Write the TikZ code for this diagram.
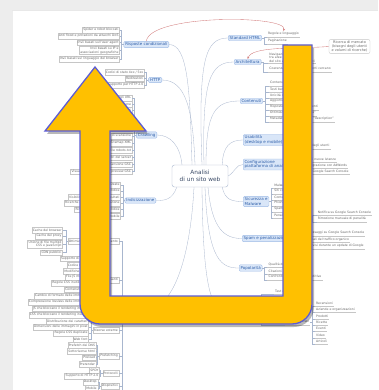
\documentclass[tikz,border=0pt]{standalone}
\usepackage{fontspec}
\setmainfont{DejaVu Sans}
\usetikzlibrary{arrows.meta}
\definecolor{pagebg}{HTML}{EDEDED}
\definecolor{conc}{HTML}{A8B6CE}
\definecolor{redl}{HTML}{D27A7A}
\definecolor{brfill}{HTML}{D9E6F8}
\definecolor{brdraw}{HTML}{9DBAE6}
\definecolor{brtext}{HTML}{2E5EA8}
\definecolor{leaftext}{HTML}{666666}
\definecolor{leafline}{HTML}{C6C6C6}
\definecolor{arrowfill}{HTML}{FFC000}
\definecolor{arrowdraw}{HTML}{5C5CD4}
\definecolor{hubtext}{HTML}{3A4A66}
\tikzset{
  leaf/.style={draw=leafline, line width=0.25pt, text=leaftext,
    font=\fontsize{3.1}{3.6}\selectfont, inner xsep=1pt, inner ysep=0.6pt,
    minimum height=5.6pt, align=left},
  uleaf/.style={text=leaftext, font=\fontsize{3.1}{3.6}\selectfont,
    inner xsep=1pt, inner ysep=0.6pt, minimum height=5.6pt, align=left},
  uline/.style={draw=leafline, line width=0.3pt},
  branch/.style={draw=brdraw, fill=brfill, text=brtext, rounded corners=1.2pt,
    line width=0.35pt, font=\fontsize{4}{4.7}\selectfont, inner xsep=1.5pt,
    inner ysep=1.2pt, align=left},
  hub/.style={draw=conc, fill=white, rounded corners=2.5pt, line width=0.4pt,
    text=hubtext, font=\fontsize{5.8}{7}\selectfont, align=center,
    minimum width=56pt, minimum height=22pt},
  notebox/.style={draw=leafline, fill=white, rounded corners=2pt, line width=0.35pt,
    text=leaftext, font=\fontsize{3.5}{4.1}\selectfont, align=center,
    inner xsep=2.5pt, inner ysep=1.5pt},
  conn/.style={draw=conc, line width=0.3pt},
  xlink/.style={draw=redl, line width=0.35pt, -{Stealth[length=2.5pt,width=2pt]}},
  bigarrow/.style={fill=arrowfill, draw=arrowdraw, line width=1.3pt, line join=miter},
  arrowshadow/.style={fill=black, opacity=0.28}
}
% boxed leaves to the left of a parent: parent, gap, list y/text
\newcommand\LLeaves[3]{%
  \path (#1.west) ++(-#2,0) coordinate (#1-b);
  \foreach \ly/\lt [count=\li] in {#3}{%
    \node[leaf, anchor=east, align=right] (#1-\li) at (#1-b |- 0,\ly) {\lt};
    \draw[conn] (#1.west) -- ++(-2,0) |- (#1-\li.east);
  }}
% underlined leaves to the right of a parent
\newcommand\RLeaves[3]{%
  \path (#1.east) ++(#2,0) coordinate (#1-b);
  \foreach \ly/\lt [count=\li] in {#3}{%
    \node[uleaf, anchor=west] (#1-\li) at (#1-b |- 0,\ly) {\lt};
    \draw[uline] (#1-\li.south west) -- (#1-\li.south east);
    \draw[conn] (#1.east) -- ++(2,0) |- (#1-\li.south west);
  }}
\begin{document}
\begin{tikzpicture}[x=1pt,y=-1pt]
\useasboundingbox (0,0) rectangle (378,390);
\fill[pagebg] (0,0) rectangle (378,390);
\fill[black!9] (12,10) rectangle (378,11);
\fill[white] (13,11) rectangle (378,390);

% ---------- centre and branches ----------
\node[hub] (c) at (200,176) {Analisi\\di un sito web};

\node[branch, anchor=east] (rc) at (169,44.5) {Risposte condizionali};
\node[branch, anchor=east] (http) at (162,80) {HTTP};
\node[branch, anchor=east] (crawl) at (157,135) {Crawling};
\node[branch, anchor=east] (idx) at (156,200.5) {Indicizzazione};

\node[branch, anchor=west] (std) at (228,38) {Standard HTML};
\node[branch, anchor=west] (arch) at (234,62) {Architettura};
\node[branch, anchor=west] (cont) at (240,101) {Contenuti};
\node[branch, anchor=west] (usab) at (243,140) {Usabilità\\(desktop e mobile)};
\node[branch, anchor=west] (conf) at (243,164.5) {Configurazione\\piattaforma di analisi};
\node[branch, anchor=west] (sic) at (243,201.5) {Sicurezza e\\Malware};
\node[branch, anchor=west] (spam) at (242,238.5) {Spam e penalizzazioni};
\node[branch, anchor=west] (pop) at (239,268) {Popolarità};
\node[branch, anchor=west] (mark) at (225,310) {Dati strutturati};
\node[branch, anchor=west] (perf) at (126,310) {Velocità};

\node[notebox] (mkt) at (349.5,46.5) {Ricerca di mercato\\(bisogni degli utenti\\e volumi di ricerche)};

% ---------- curves from the centre ----------
\draw[conn] ([xshift=-8pt]c.north) .. controls (190,90) and (188,44.5) .. (rc.east);
\draw[conn] ([xshift=-5pt]c.north) .. controls (193,110) and (186,80) .. (http.east);
\draw[conn] ([xshift=-18pt]c.north) .. controls (180,145) and (170,135) .. (crawl.east);
\draw[conn] ([xshift=5pt]c.south west) .. controls (172,200) and (165,200.5) .. (idx.east);
\draw[conn] ([xshift=2pt]c.north) .. controls (198,60) and (205,38) .. (std.west);
\draw[conn] ([xshift=4pt]c.north) .. controls (202,80) and (210,62) .. (arch.west);
\draw[conn] ([xshift=6pt]c.north) .. controls (206,112) and (215,101) .. (cont.west);
\draw[conn] ([xshift=-6pt]c.north east) .. controls (223,146) and (230,140) .. (usab.west);
\draw[conn] (c.east) .. controls (235,172) and (236,164.5) .. (conf.west);
\draw[conn] ([xshift=-6pt]c.south east) .. controls (225,200) and (232,201.5) .. (sic.west);
\draw[conn] ([xshift=8pt]c.south) .. controls (212,230) and (225,238.5) .. (spam.west);
\draw[conn] ([xshift=5pt]c.south) .. controls (208,262) and (222,268) .. (pop.west);
\draw[conn] ([xshift=2pt]c.south) .. controls (203,282) and (210,310) .. (mark.west);
\draw[conn] ([xshift=-6pt]c.south) .. controls (190,262) and (172,310) .. (perf.east);

% ---------- left leaves ----------
\LLeaves{rc}{4}{30/Spider e robot bloccati,
  36/Anti flood e protezioni da attacchi DoS,
  42.5/Invii basati sull'user agent,
  50.5/{Invii basati su IP e\\associazioni geografiche},
  59/Invii basati sul linguaggio del browser}
\LLeaves{http}{4}{72/{Codici di stato 4xx / 5xx},
  78.5/Redirezioni,
  85/Supporto per HTTP 2.0}
\LLeaves{crawl}{4}{98/Accessibilità degli URL,
  104/Profondità di scansione,
  110/Link interrotti,
  116/Reindirizzamenti a catena,
  122/Parametri URL,
  128/Contenuti duplicati,
  136/Budget di scansione,
  143/Sitemap XML,
  150/File robots.txt,
  157.5/Errori del server,
  164.5/Statistiche di scansione GSC,
  171.5/{Visualizza come Google / preview GSC}}
\LLeaves{idx}{4}{185/Pagine indicizzate,
  191/Copertura dell'indice,
  197/Visibilità di metadati nei risultati,
  203/Ricerche di marca e di navigazione,
  209.5/Rimozione di URL dall'indice,
  216/Indicizzazione mobile}

% groups at bottom left
\node[leaf, anchor=east] (g1) at (119,241) {Ottimizzazione del caricamento};
\node[leaf, anchor=east] (g2) at (119,280) {Risorse pesanti};
\node[leaf, anchor=east] (g3) at (119,330) {Risorse esterne};
\node[leaf, anchor=east] (g4) at (119,356) {Prefetching};
\node[leaf, anchor=east] (g5) at (119,373) {Protocolli};
\node[leaf, anchor=east] (g6) at (119,386) {Dispositivi};
\foreach \g in {g1,g2,g3,g4,g5,g6}{\draw[conn] (perf.west) -- ++(-4,0) |- (\g.east);}
\draw[conn] (perf.west) -- ++(-4,0) -- ++(0,85);

\LLeaves{g1}{5}{230/Cache del browser,
  236/Cache del proxy,
  244/{Unione di file multipli\\CSS e JavaScript},
  252.5/CDN pubblici}
\LLeaves{g2}{4}{258.5/Supporto di HTTP/2 push,
  265/Codice HTML,
  271/Modifiche DOM,
  277/File JS multipli,
  283/Regole CSS inutilizzate,
  289.5/Contenuti gzip,
  296/Cambio di formato delle immagini,
  302/Compressione lossless delle immagini,
  308.5/JS che bloccano il rendering iniziale,
  315/CSS che bloccano il rendering iniziale}
\LLeaves{g3}{4}{321/Distribuzione dei caratteri,
  327/Dimensioni delle immagini in pixel,
  333/Regole CSS duplicate,
  339/Web font}
\LLeaves{g4}{3}{345/Prefetch dei DNS,
  351/Sottorisorse html,
  357.5/Preload,
  364/Prerender}
\LLeaves{g5}{3}{370/SPDY,
  376/Supporto di HTTP 2.0}
\LLeaves{g6}{3}{382/Desktop,
  388/Mobile}

% ---------- right leaves ----------
\RLeaves{std}{5}{34/Regole e linguaggio,
  41/Paginazione}
\RLeaves{arch}{7}{57.5/{Navigazione\\tra aree\\del sito e link interni evidenti},
  69/Coerenza con ciò che gli utenti cercano}
\RLeaves{cont}{6}{83/Contenuti originali,
  89/Testi ben scritti,
  95/Unicità dei testi,
  101/Aggiornamento costante,
  107/Risposte ai bisogni degli utenti,
  113/Ottimizzazione del tag “Title”,
  119/Metadati: uso del tag meta “description”}
\RLeaves{usab}{4}{132.5/Layout adatto,
  139/Leggibilità,
  146/Soddisfazione degli utenti}
\RLeaves{conf}{4}{159.5/Creazione di nuove istanze,
  165.5/Verifica integrazione con AdWords,
  171.5/Collegato a Google Search Console}
\RLeaves{sic}{4}{185/Malware rilevato,
  191/Siti compromessi,
  197/Contenuti iniettati,
  203/Phishing,
  209/Spam generato,
  215.5/Penalizzazioni manuali}
\RLeaves{sic-6}{6}{212.5/Notifica su Google Search Console,
  219/Rimozione manuale di penalità}
\RLeaves{spam}{4}{233/Avvisi e messaggi su Google Search Console,
  239.5/Cali stagionali del traffico organico,
  246/Cali improvvisi durante un update di Google}
\RLeaves{pop}{5}{264.5/Qualità dei link,
  271/Citazioni del brand,
  277/Confronto con pagine competitive}

\node[uleaf, anchor=west] (test) at (274,291) {Test dei dati strutturati};
\draw[uline] (test.south west) -- (test.south east);
\node[uleaf, anchor=east] (tipi) at (310,322) {Tipi supportati};
\draw[uline] (tipi.south west) -- (tipi.south east);
\draw[conn] (mark.east) -- ++(3,0) |- (test.south west);
\draw[conn] (mark.east) -- ++(3,0) |- (tipi.south west);
\RLeaves{tipi}{5}{303/Recensioni,
  309.5/Aziende e organizzazioni,
  316/Prodotti,
  322/Ricette,
  328.5/Eventi,
  335/Video,
  341/Articoli}

% ---------- cross links ----------
\draw[xlink] (rc.north) .. controls (150,14) and (288,15) .. (std-1.north);
\draw[xlink] (mkt.west) .. controls (295,49) and (252,46) .. (arch.north);

% ---------- big U-turn arrow ----------
\fill[arrowshadow, shift={(2,3)}] (95,67) -- (146,131) -- (110,131) -- (110,296)
  -- (283,296) -- (283,45) -- (312,45) -- (312,304)
  .. controls (312,315) and (303,324) .. (292,324) -- (100,324)
  .. controls (89,324) and (80,315) .. (80,304) -- (80,131) -- (45,131) -- cycle;
\path[bigarrow] (95,67) -- (146,131) -- (110,131) -- (110,296)
  -- (283,296) -- (283,45) -- (312,45) -- (312,304)
  .. controls (312,315) and (303,324) .. (292,324) -- (100,324)
  .. controls (89,324) and (80,315) .. (80,304) -- (80,131) -- (45,131) -- cycle;
\end{tikzpicture}
\end{document}
